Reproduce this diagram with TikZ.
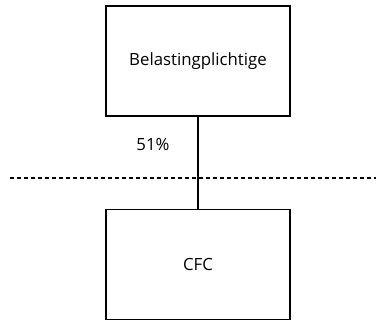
\documentclass[tikz,border=0pt]{standalone}
\usepackage{fontspec}
\setmainfont{Open Sans}
\begin{document}
\begin{tikzpicture}[x=1pt,y=-1pt,
  entity/.style={draw,line width=1.6pt,minimum width=184pt,minimum height=110pt,inner sep=0pt,font=\fontsize{16.8}{19}\selectfont},
  conn/.style={line width=1.6pt},
  sep/.style={line width=1.4pt,dash pattern=on 4pt off 3pt},
  lbl/.style={font=\fontsize{16.8}{19}\selectfont}]
\useasboundingbox (0,0) rectangle (376,320);
\node[entity] (top) at (198,61) {Belastingplichtige};
\node[entity] (cfc) at (198,264.5) {CFC};
\draw[conn] (top.south) -- (cfc.north);
\node[lbl] (pct) at (153,145) {51\%};
\coordinate (l) at (10,178);
\coordinate (r) at (376,178);
\draw[sep] (l) -- (r);
\end{tikzpicture}
\end{document}
